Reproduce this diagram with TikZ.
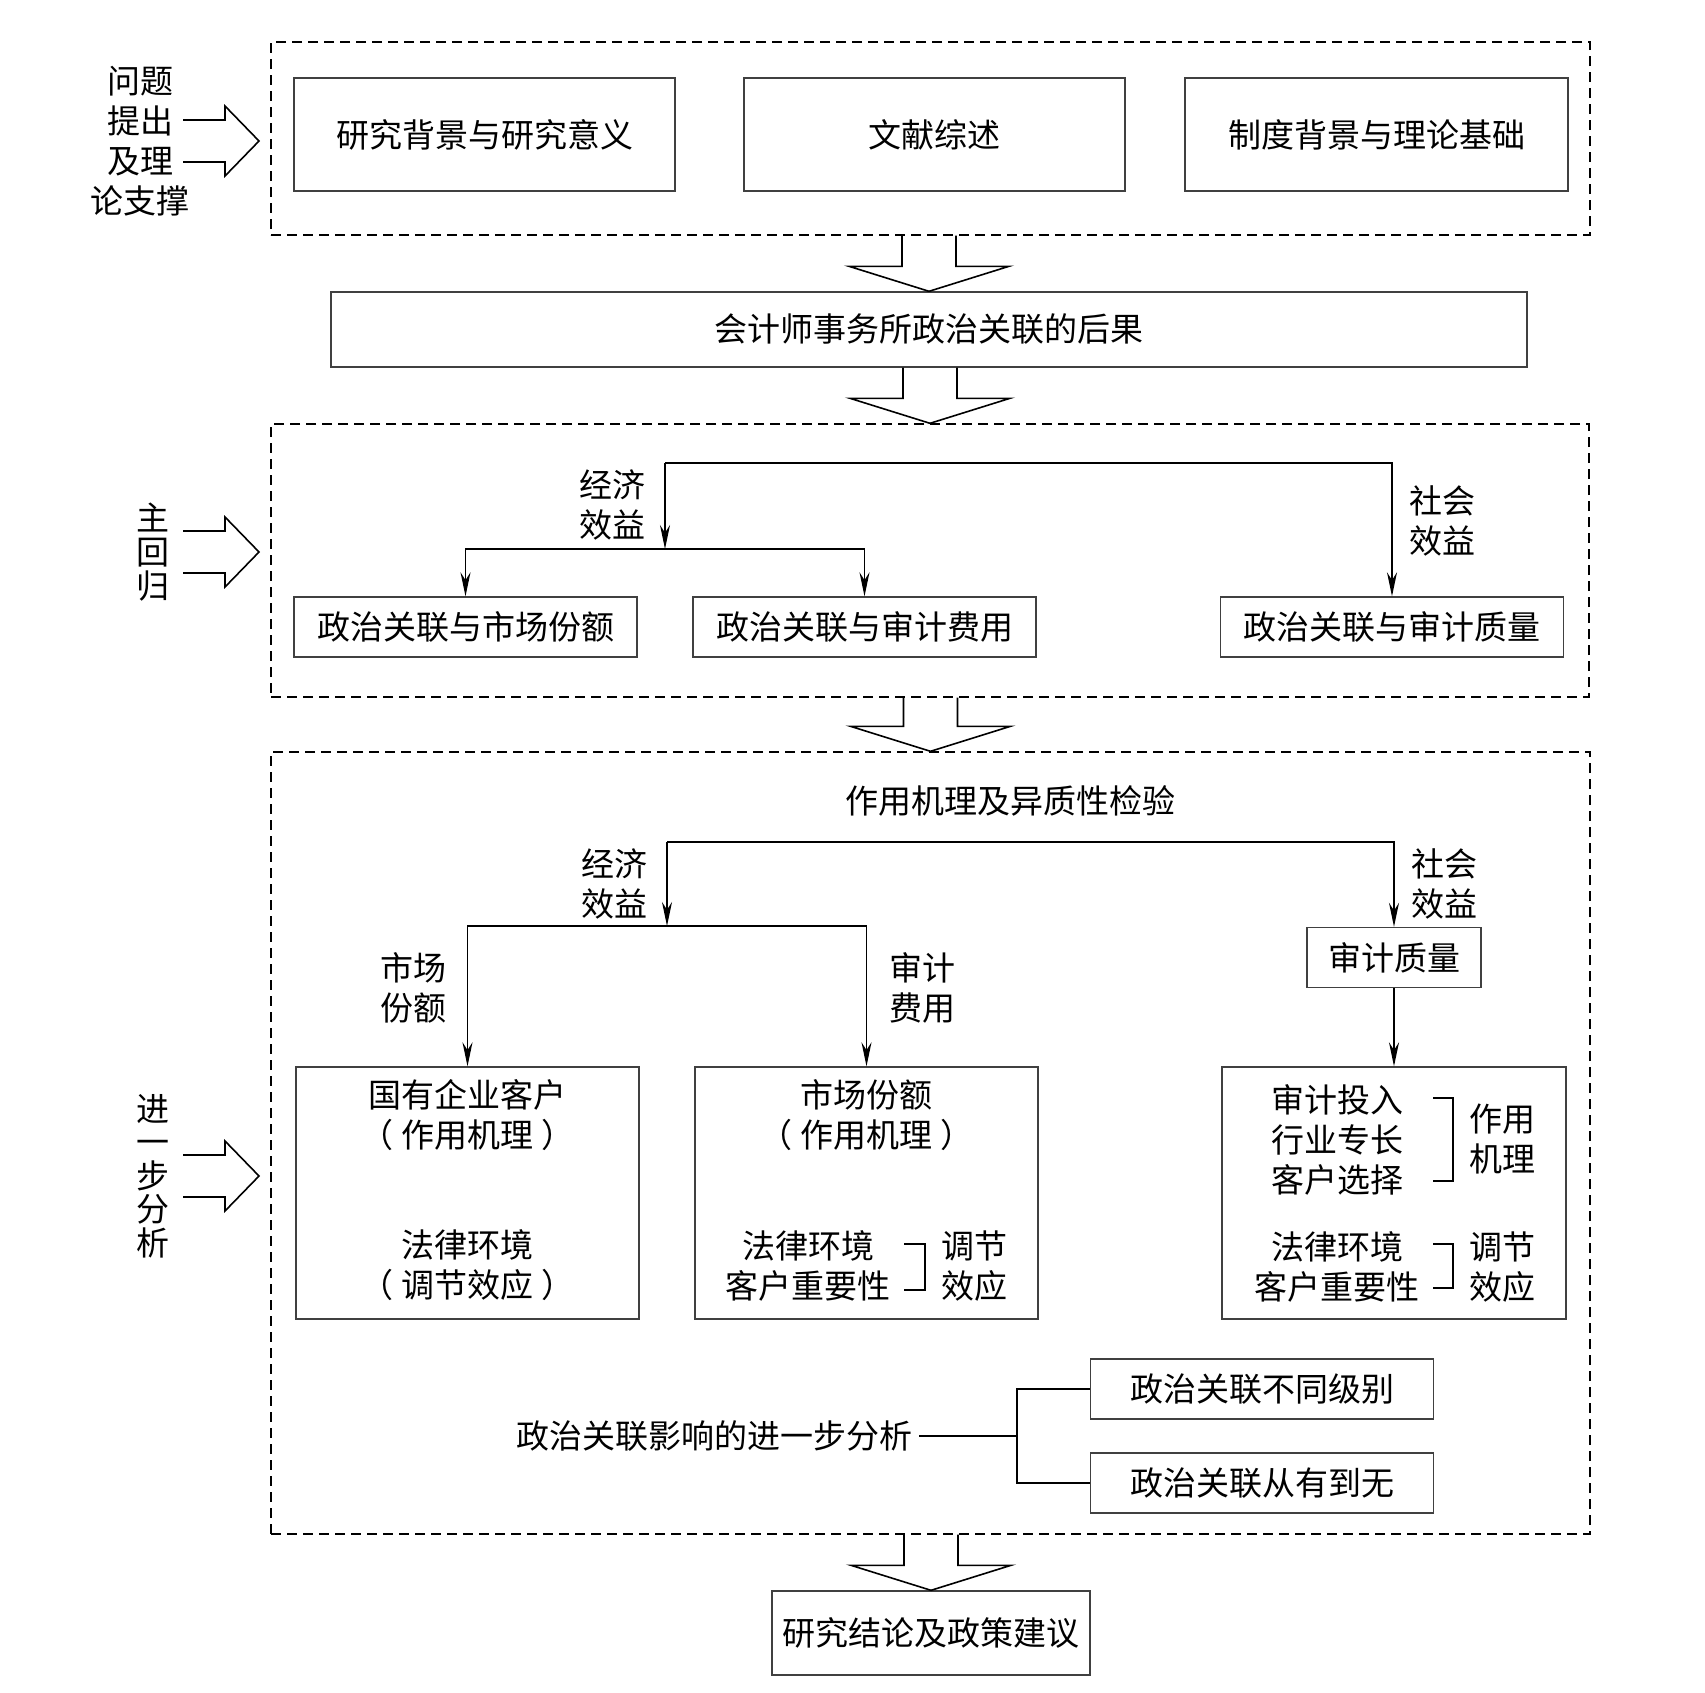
\documentclass[tikz,border=0pt]{standalone}
\usepackage{fontspec}
\setmainfont{Noto Sans CJK SC}
\usetikzlibrary{arrows.meta, calc}

\tikzset{
  box/.style={draw=black!75, line width=0.7pt, minimum width=171.5pt, minimum height=30pt, inner sep=0pt},
  dashbox/.style={draw, line width=0.7pt, dash pattern=on 5pt off 3pt, inner sep=0pt},
  hollow/.style={draw, line width=0.8pt, line join=miter},
  arr/.style={draw, line width=0.7pt, -{Stealth[length=12pt,width=5pt]}},
  link/.style={draw, line width=0.7pt},
  twoline/.style={align=center},
  column/.style={align=center, font=\fontsize{16.5}{16.8}\selectfont},
}
\newcommand{\paren}[1]{（\hspace{4pt}#1\hspace{4pt}）}

\begin{document}
\begin{tikzpicture}[x=0.5pt, y=-0.5pt, font=\fontsize{16.5}{20}\selectfont]
\useasboundingbox (0,0) rectangle (1705,1693);

% dashed sections
\node[dashbox, minimum width=659.5pt, minimum height=96.5pt] (sec1) at (930.5,138.5) {};
\node[dashbox, minimum width=659pt, minimum height=136.5pt] (sec2) at (930,560.5) {};
\node[dashbox, minimum width=659.5pt, minimum height=391pt] (sec3) at (930.5,1143) {};

% side labels
\node[twoline] (q) at (140,141) {问题\\提出\\及理\\论支撑};
\node[column] (main) at (153,552) {主\\回\\归};
\node[column] (adv) at (153,1176) {进\\一\\步\\分\\析};

% question and theory
\node[box, minimum width=190.5pt, minimum height=56.5pt] (bg) at (484.5,134.5) {研究背景与研究意义};
\node[box, minimum width=190.5pt, minimum height=56.5pt] (lit) at (934.5,134.5) {文献综述};
\node[box, minimum width=191.5pt, minimum height=56.5pt] (inst) at (1376.5,134.5) {制度背景与理论基础};

\node[box, minimum width=598pt, minimum height=37.5pt] (conseq) at (929,329.5) {会计师事务所政治关联的后果};

% main regression
\node[box] (ms) at (465.5,627) {政治关联与市场份额};
\node[box] (fee) at (864.5,627) {政治关联与审计费用};
\node[box] (aq) at (1392,627) {政治关联与审计质量};
\coordinate (top2) at (665,463);
\coordinate (fork2) at (665,549);
\draw[arr] (top2) -- (fork2);
\draw[arr] (top2) -| (aq.north);
\draw[arr] (fork2) -| (ms.north);
\draw[arr] (fork2) -| (fee.north);
\node[twoline] (econ2) at (612,505) {经济\\效益};
\node[twoline] (soc2) at (1442,521) {社会\\效益};

% further analysis
\node (mech) at (1010,801) {作用机理及异质性检验};
\coordinate (top3) at (667,842);
\coordinate (fork3) at (667,926);
\node[box, minimum width=87pt] (aq3) at (1394,957.5) {审计质量};
\node[box, minimum height=126pt] (soe) at (467.5,1193) {};
\node[box, minimum height=126pt] (share) at (866.5,1193) {};
\node[box, minimum width=172pt, minimum height=126pt] (qual) at (1394,1193) {};
\draw[arr] (top3) -- (fork3);
\draw[arr] (top3) -| (aq3.north);
\draw[arr] (fork3) -| (soe.north);
\draw[arr] (fork3) -| (share.north);
\draw[arr] (aq3) -- (qual);
\node[twoline] (econ3) at (614,884) {经济\\效益};
\node[twoline] (soc3) at (1444,884) {社会\\效益};
\node[twoline] (msl) at (413,988) {市场\\份额};
\node[twoline] (feel) at (922,988) {审计\\费用};

% box contents
\node[twoline] (soeA) at (467.5,1115) {国有企业客户\\\paren{作用机理}};
\node[twoline] (soeB) at (467.5,1265) {法律环境\\\paren{调节效应}};
\node[twoline] (shA) at (866.5,1115) {市场份额\\\paren{作用机理}};
\node[twoline] (shB) at (808,1266) {法律环境\\客户重要性};
\node[twoline] (shC) at (974,1266) {调节\\效应};
\draw[link] (904,1244) -- (925,1244) -- (925,1290) -- (904,1290);
\node[twoline] (quA) at (1337,1140) {审计投入\\行业专长\\客户选择};
\node[twoline] (quB) at (1502,1139) {作用\\机理};
\draw[link] (1433,1098) -- (1453,1098) -- (1453,1181) -- (1433,1181);
\node[twoline] (quC) at (1337,1267) {法律环境\\客户重要性};
\node[twoline] (quD) at (1502,1267) {调节\\效应};
\draw[link] (1433,1244) -- (1453,1244) -- (1453,1288) -- (1433,1288);

\node (furth) at (714,1436) {政治关联影响的进一步分析};
\node[box] (lvl) at (1262,1389) {政治关联不同级别};
\node[box] (rm) at (1262,1483) {政治关联从有到无};
\coordinate (br) at (1017,1436);
\draw[link] (furth.east) -- (br);
\draw[link] (br) |- (lvl.west);
\draw[link] (br) |- (rm.west);

\node[box, minimum width=159pt, minimum height=42pt] (concl) at (931,1633) {研究结论及政策建议};

% hollow arrows
\foreach \src/\dst in {sec1/conseq, conseq/sec2, sec2/sec3, sec3/concl}
  \draw[hollow] let \p1=(\src.south), \p2=(\dst.north) in
    (\x2-13.5pt,\y1) -- (\x2-13.5pt,\y2+12.5pt) -- (\x2-40pt,\y2+12.5pt) -- (\x2,\y2)
    -- (\x2+40pt,\y2+12.5pt) -- (\x2+13.5pt,\y2+12.5pt) -- (\x2+13.5pt,\y1);
\foreach \lab in {q, main, adv}
  \draw[hollow] let \p1=(\lab.center) in
    (91.5pt,\y1+10.5pt) -- (112.5pt,\y1+10.5pt) -- (112.5pt,\y1+17.5pt) -- (129.5pt,\y1)
    -- (112.5pt,\y1-17.5pt) -- (112.5pt,\y1-10.5pt) -- (91.5pt,\y1-10.5pt);

\end{tikzpicture}
\end{document}
